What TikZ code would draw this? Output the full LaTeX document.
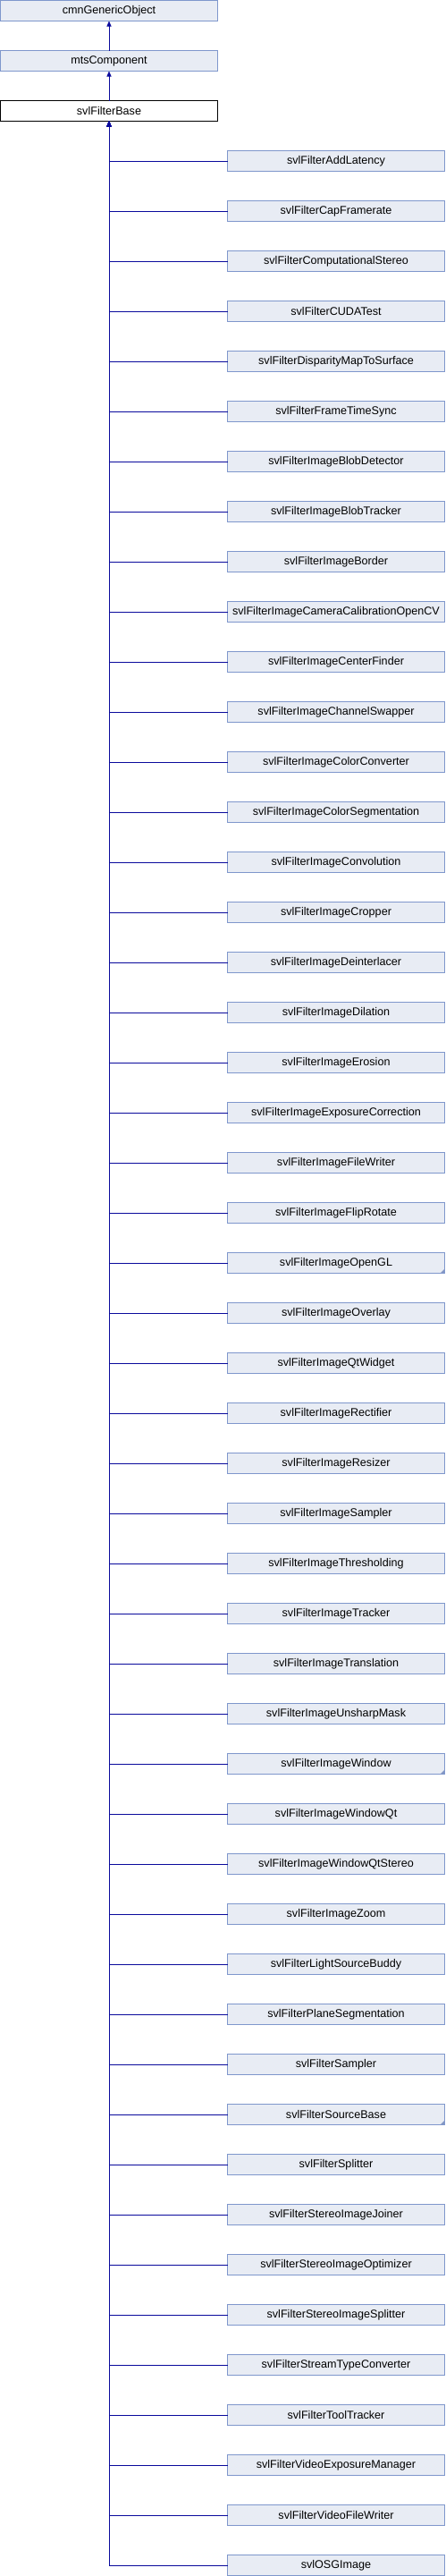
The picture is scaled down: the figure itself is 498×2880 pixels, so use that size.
\documentclass[tikz,border=0pt]{standalone}
\usepackage{fontspec}
\setmainfont{Liberation Sans}
\usepackage{xcolor}
\usetikzlibrary{arrows.meta, positioning}

\definecolor{boxfill}{HTML}{E8ECF4}
\definecolor{boxline}{HTML}{7F97CC}
\definecolor{edgecol}{HTML}{0A0A9C}
\definecolor{markcol}{HTML}{8296C4}

\begin{document}
\begin{tikzpicture}[
    node distance=33pt,
    cls/.style={rectangle, draw=boxline, fill=boxfill, line width=0.9pt,
                minimum width=243pt, minimum height=23pt, inner sep=1pt,
                outer sep=0pt, font=\fontsize{12.6}{14}\selectfont},
    self/.style={cls, draw=black, fill=white},
    trunc/.style={cls, path picture={\fill[markcol]
        (path picture bounding box.south east) -- ++(-5pt,0) -- ++(5pt,5pt) -- cycle;}},
    arr/.style={-{Triangle[length=6pt, width=5pt]}, draw=edgecol, line width=0.9pt},
]
\useasboundingbox (0,0) rectangle (498pt,-2880pt);

% Ancestors
\node[cls, anchor=north west] (cmn) at (0.5pt,-0.5pt) {cmnGenericObject};
\node[cls, below=of cmn] (mts) {mtsComponent};
\node[self, below=of mts] (base) {svlFilterBase};

% Derived classes
\node[cls, below right=33pt and 11pt of base] (addlat) {svlFilterAddLatency};
\node[cls, below=of addlat] (capfr) {svlFilterCapFramerate};
\node[cls, below=of capfr] (compst) {svlFilterComputationalStereo};
\node[cls, below=of compst] (cuda) {svlFilterCUDATest};
\node[cls, below=of cuda] (disp) {svlFilterDisparityMapToSurface};
\node[cls, below=of disp] (fts) {svlFilterFrameTimeSync};
\node[cls, below=of fts] (blobdet) {svlFilterImageBlobDetector};
\node[cls, below=of blobdet] (blobtrk) {svlFilterImageBlobTracker};
\node[cls, below=of blobtrk] (border) {svlFilterImageBorder};
\node[cls, below=of border] (camcal) {svlFilterImageCameraCalibrationOpenCV};
\node[cls, below=of camcal] (center) {svlFilterImageCenterFinder};
\node[cls, below=of center] (chswap) {svlFilterImageChannelSwapper};
\node[cls, below=of chswap] (colconv) {svlFilterImageColorConverter};
\node[cls, below=of colconv] (colseg) {svlFilterImageColorSegmentation};
\node[cls, below=of colseg] (conv) {svlFilterImageConvolution};
\node[cls, below=of conv] (crop) {svlFilterImageCropper};
\node[cls, below=of crop] (deint) {svlFilterImageDeinterlacer};
\node[cls, below=of deint] (dil) {svlFilterImageDilation};
\node[cls, below=of dil] (ero) {svlFilterImageErosion};
\node[cls, below=of ero] (expcorr) {svlFilterImageExposureCorrection};
\node[cls, below=of expcorr] (fwrite) {svlFilterImageFileWriter};
\node[cls, below=of fwrite] (flip) {svlFilterImageFlipRotate};
\node[trunc, below=of flip] (opengl) {svlFilterImageOpenGL};
\node[cls, below=of opengl] (overlay) {svlFilterImageOverlay};
\node[cls, below=of overlay] (qtw) {svlFilterImageQtWidget};
\node[cls, below=of qtw] (rect) {svlFilterImageRectifier};
\node[cls, below=of rect] (resize) {svlFilterImageResizer};
\node[cls, below=of resize] (isampler) {svlFilterImageSampler};
\node[cls, below=of isampler] (thresh) {svlFilterImageThresholding};
\node[cls, below=of thresh] (itrack) {svlFilterImageTracker};
\node[cls, below=of itrack] (transl) {svlFilterImageTranslation};
\node[cls, below=of transl] (unsharp) {svlFilterImageUnsharpMask};
\node[trunc, below=of unsharp] (win) {svlFilterImageWindow};
\node[cls, below=of win] (winqt) {svlFilterImageWindowQt};
\node[cls, below=of winqt] (winqts) {svlFilterImageWindowQtStereo};
\node[cls, below=of winqts] (zoom) {svlFilterImageZoom};
\node[cls, below=of zoom] (light) {svlFilterLightSourceBuddy};
\node[cls, below=of light] (plane) {svlFilterPlaneSegmentation};
\node[cls, below=of plane] (sampler) {svlFilterSampler};
\node[trunc, below=of sampler] (source) {svlFilterSourceBase};
\node[cls, below=of source] (split) {svlFilterSplitter};
\node[cls, below=of split] (sjoin) {svlFilterStereoImageJoiner};
\node[cls, below=of sjoin] (sopt) {svlFilterStereoImageOptimizer};
\node[cls, below=of sopt] (ssplit) {svlFilterStereoImageSplitter};
\node[cls, below=of ssplit] (stream) {svlFilterStreamTypeConverter};
\node[cls, below=of stream] (tool) {svlFilterToolTracker};
\node[cls, below=of tool] (vexp) {svlFilterVideoExposureManager};
\node[cls, below=of vexp] (vfw) {svlFilterVideoFileWriter};
\node[cls, below=of vfw] (osg) {svlOSGImage};

% Inheritance arrows
\draw[arr] (mts) -- (cmn);
\draw[arr] (base) -- (mts);
\draw[arr] (addlat) -| (base);
\draw[arr] (capfr) -| (base);
\draw[arr] (compst) -| (base);
\draw[arr] (cuda) -| (base);
\draw[arr] (disp) -| (base);
\draw[arr] (fts) -| (base);
\draw[arr] (blobdet) -| (base);
\draw[arr] (blobtrk) -| (base);
\draw[arr] (border) -| (base);
\draw[arr] (camcal) -| (base);
\draw[arr] (center) -| (base);
\draw[arr] (chswap) -| (base);
\draw[arr] (colconv) -| (base);
\draw[arr] (colseg) -| (base);
\draw[arr] (conv) -| (base);
\draw[arr] (crop) -| (base);
\draw[arr] (deint) -| (base);
\draw[arr] (dil) -| (base);
\draw[arr] (ero) -| (base);
\draw[arr] (expcorr) -| (base);
\draw[arr] (fwrite) -| (base);
\draw[arr] (flip) -| (base);
\draw[arr] (opengl) -| (base);
\draw[arr] (overlay) -| (base);
\draw[arr] (qtw) -| (base);
\draw[arr] (rect) -| (base);
\draw[arr] (resize) -| (base);
\draw[arr] (isampler) -| (base);
\draw[arr] (thresh) -| (base);
\draw[arr] (itrack) -| (base);
\draw[arr] (transl) -| (base);
\draw[arr] (unsharp) -| (base);
\draw[arr] (win) -| (base);
\draw[arr] (winqt) -| (base);
\draw[arr] (winqts) -| (base);
\draw[arr] (zoom) -| (base);
\draw[arr] (light) -| (base);
\draw[arr] (plane) -| (base);
\draw[arr] (sampler) -| (base);
\draw[arr] (source) -| (base);
\draw[arr] (split) -| (base);
\draw[arr] (sjoin) -| (base);
\draw[arr] (sopt) -| (base);
\draw[arr] (ssplit) -| (base);
\draw[arr] (stream) -| (base);
\draw[arr] (tool) -| (base);
\draw[arr] (vexp) -| (base);
\draw[arr] (vfw) -| (base);
\draw[arr] (osg) -| (base);

\end{tikzpicture}
\end{document}
